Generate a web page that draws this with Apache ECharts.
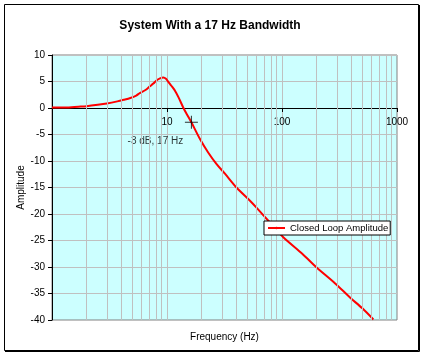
<!DOCTYPE html>
<html>
<head>
<meta charset="utf-8">
<script src="https://cdn.jsdelivr.net/npm/echarts@6/dist/echarts.min.js"></script>
<style>
  html, body { margin: 0; padding: 0; background: #fff; }
  #chart { width: 425px; height: 357px; }
</style>
</head>
<body>
<div id="chart"></div>
<script>
// ---- Data ----
const titleText = 'System With a 17 Hz Bandwidth';
const seriesName = 'Closed Loop Amplitude';
const frequency = [1, 1.3, 1.7, 2, 2.5, 3, 3.7, 4.2, 4.8, 5.4, 5.8, 6.5, 7.1, 7.6, 8.1, 8.7, 9.3, 9.8, 10.3, 11, 11.7, 12.6, 13.9, 15, 16.3, 19.3, 22.8, 27, 31.9, 40.2, 52.7, 60, 80, 102.6, 150, 200, 290, 392, 500, 623];
const amplitude = [0.1, 0.1, 0.25, 0.35, 0.6, 0.85, 1.25, 1.55, 1.9, 2.35, 2.8, 3.4, 4.1, 4.6, 5.2, 5.6, 5.75, 5.5, 4.9, 4.1, 3.3, 2.0, 0, -1.3, -2.7, -5.8, -8.4, -10.6, -12.4, -15.0, -17.5, -18.8, -21.8, -24.4, -27.5, -30.1, -33.1, -35.8, -37.8, -39.9];
const markerPoint = [16.3, -2.7];
const markerText = '-3 dB, 17 Hz';
const minorGridFreqs = [2, 3, 4, 5, 6, 7, 8, 9, 20, 30, 40, 50, 60, 70, 80, 90, 200, 300, 400, 500, 600, 700, 800, 900];
const xRange = [1, 1000];
const yRange = [-40, 10];
const yStep = 5;

// layout
const gridTop = 55, gridBottomPx = 320;
const zeroPx = gridTop + (gridBottomPx - gridTop) * (yRange[1] - 0) / (yRange[1] - yRange[0]);

const font = "'Liberation Sans', Arial, sans-serif";
const chart = echarts.init(document.getElementById('chart'), null, { renderer: 'canvas' });

chart.setOption({
  animation: false,
  backgroundColor: '#ffffff',
  textStyle: { fontFamily: font, color: '#000' },
  title: {
    text: titleText,
    left: 205,
    textAlign: 'center',
    top: 15,
    textStyle: { fontFamily: font, fontSize: 12, fontWeight: 'bold', color: '#000' }
  },
  legend: {
    data: [seriesName],
    z: 20,
    left: 264,
    top: 221,
    padding: [2, 2, 2, 3],
    backgroundColor: '#ffffff',
    borderColor: '#000000',
    borderWidth: 1,
    borderRadius: 0,
    itemWidth: 17,
    itemHeight: 3,
    textStyle: { fontFamily: font, fontSize: 9.5, color: '#000' }
  },
  grid: {
    left: 52, top: gridTop, right: 28, bottom: 357 - gridBottomPx,
    show: true,
    backgroundColor: '#ccffff',
    borderColor: '#808080',
    borderWidth: 1,
    containLabel: false,
    outerBoundsMode: 'none'
  },
  xAxis: {
    type: 'log',
    logBase: 10,
    min: xRange[0],
    max: xRange[1],
    position: 'bottom',
    offset: -(gridBottomPx - zeroPx),
    name: 'Frequency (Hz)',
    nameLocation: 'middle',
    nameGap: 224,
    nameMoveOverlap: false,
    nameTextStyle: { fontFamily: font, fontSize: 10, color: '#000' },
    axisLine: { show: true, onZero: false, lineStyle: { color: '#000', width: 1 } },
    axisTick: { show: true, length: 4, lineStyle: { color: '#000' } },
    axisLabel: { show: true, showMinLabel: false, margin: 9, fontFamily: font, fontSize: 10, color: '#000', formatter: v => String(v) },
    splitLine: { show: true, lineStyle: { color: '#c0c0c0', width: 1 } },
    minorTick: { show: false },
    minorSplitLine: { show: false }
  },
  yAxis: {
    type: 'value',
    min: yRange[0],
    max: yRange[1],
    interval: yStep,
    name: 'Amplitude',
    nameLocation: 'middle',
    nameGap: 26,
    nameMoveOverlap: false,
    nameTextStyle: { fontFamily: font, fontSize: 10, color: '#000' },
    axisLine: { show: true, onZero: false, lineStyle: { color: '#000', width: 1 } },
    axisTick: { show: true, length: 4, lineStyle: { color: '#000' } },
    axisLabel: { margin: 7, fontFamily: font, fontSize: 10, color: '#000' },
    splitLine: { show: true, lineStyle: { color: '#c0c0c0', width: 1 } }
  },
  series: [
    {
      name: 'minor-grid',
      type: 'line',
      data: [],
      z: 1,
      silent: true,
      markLine: {
        silent: true,
        symbol: ['none', 'none'],
        label: { show: false },
        emphasis: { disabled: true },
        lineStyle: { color: '#c0c0c0', type: 'solid', width: 1 },
        data: minorGridFreqs.map(f => ({ xAxis: f }))
      }
    },
    {
      name: seriesName,
      type: 'line',
      z: 3,
      data: frequency.map((f, i) => [f, amplitude[i]]),
      showSymbol: false,
      symbol: 'none',
      smooth: 0.3,
      lineStyle: { color: '#ff0000', width: 2 },
      itemStyle: { color: '#ff0000' }
    },
    {
      name: 'marker',
      type: 'scatter',
      z: 4,
      data: [markerPoint],
      symbol: 'path://M0,6H13V7H0Z M6,0H7V13H6Z',
      symbolSize: 13,
      itemStyle: { color: '#000' },
      label: {
        show: true,
        formatter: markerText,
        position: 'inside',
        offset: [-36, 19],
        fontFamily: font,
        fontSize: 10,
        color: '#000'
      }
    }
  ],
  graphic: [
    {
      type: 'rect',
      z: 100,
      silent: true,
      shape: { x: 4.5, y: 4.5, width: 414, height: 346 },
      style: { fill: 'none', stroke: '#000', lineWidth: 1 }
    },
    {
      type: 'polyline',
      z: 100,
      silent: true,
      shape: { points: [[419.5, 5], [419.5, 351.5], [5, 351.5]] },
      style: { fill: 'none', stroke: '#000', lineWidth: 1 }
    }
  ]
});
</script>
</body>
</html>
